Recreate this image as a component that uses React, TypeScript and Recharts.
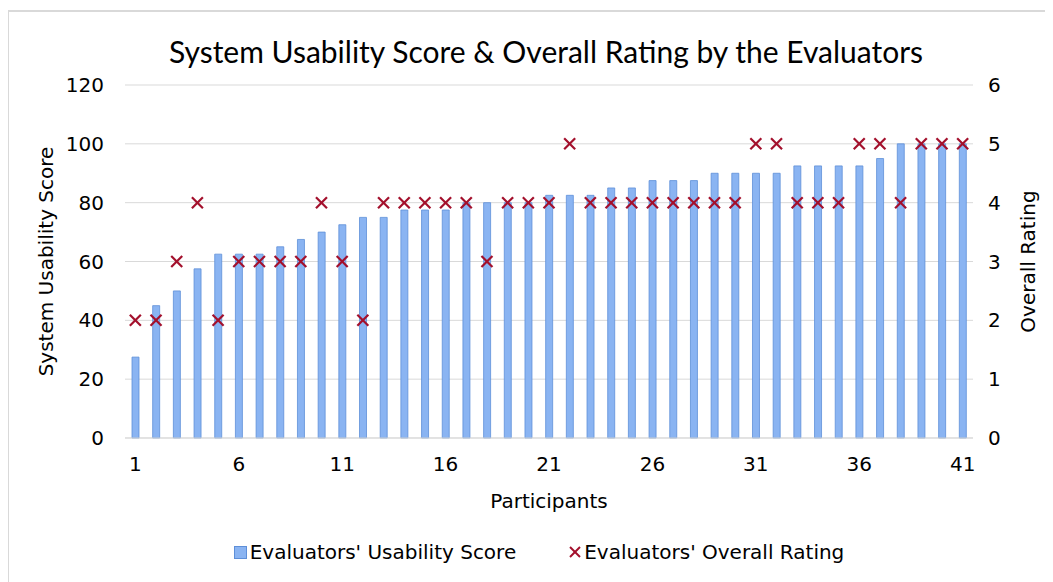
import React from "react";
import {
  ComposedChart,
  Bar,
  Line,
  XAxis,
  YAxis,
  CartesianGrid,
  Legend,
  Label,
} from "recharts";

const participants: number[] = Array.from({ length: 41 }, (_, i) => i + 1);
const usabilityScores: number[] = [
  27.5, 45, 50, 57.5, 62.5, 62.5, 62.5, 65, 67.5, 70,
  72.5, 75, 75, 77.5, 77.5, 77.5, 80, 80, 80, 80,
  82.5, 82.5, 82.5, 85, 85, 87.5, 87.5, 87.5, 90, 90,
  90, 90, 92.5, 92.5, 92.5, 92.5, 95, 100, 100, 100,
  100,
];
const overallRatings: number[] = [
  2, 2, 3, 4, 2, 3, 3, 3, 3, 4,
  3, 2, 4, 4, 4, 4, 4, 3, 4, 4,
  4, 5, 4, 4, 4, 4, 4, 4, 4, 4,
  5, 5, 4, 4, 4, 5, 5, 4, 5, 5,
  5,
];
const leftTicks: number[] = [0, 20, 40, 60, 80, 100, 120];
const rightTicks: number[] = [0, 1, 2, 3, 4, 5, 6];

const TITLE = "System Usability Score & Overall Rating by the Evaluators";
const BAR_NAME = "Evaluators' Usability Score";
const MARK_NAME = "Evaluators' Overall Rating";

const data = participants.map((p, i) => ({
  participant: p,
  score: usabilityScores[i],
  rating: overallRatings[i],
}));

const FONT = "'DejaVu Sans', sans-serif";
const BAR_FILL = "#8AB4F2";
const BAR_STROKE = "#5E8FD8";
const MARK = "#A3102C";

const XMark = (props: any) => {
  const { cx, cy } = props;
  if (cx == null || cy == null) return null;
  const r = 5.5;
  return (
    <g>
      <line x1={cx - r} y1={cy - r} x2={cx + r} y2={cy + r} stroke={MARK} strokeWidth={2.2} />
      <line x1={cx - r} y1={cy + r} x2={cx + r} y2={cy - r} stroke={MARK} strokeWidth={2.2} />
    </g>
  );
};

const LegendContent = () => (
  <div
    style={{
      height: 24,
      display: "flex",
      justifyContent: "center",
      alignItems: "center",
      fontFamily: FONT,
      fontSize: 20,
      color: "#000",
      whiteSpace: "nowrap",
    }}
  >
    <span style={{ display: "inline-flex", alignItems: "center", marginRight: 52 }}>
      <span
        style={{
          display: "inline-block",
          width: 11,
          height: 11,
          background: BAR_FILL,
          border: `1px solid ${BAR_STROKE}`,
          marginRight: 3,
        }}
      />
      {BAR_NAME}
    </span>
    <span style={{ display: "inline-flex", alignItems: "center" }}>
      <svg width={14} height={14} style={{ marginRight: 2 }}>
        <line x1={2} y1={2} x2={12} y2={12} stroke={MARK} strokeWidth={2} />
        <line x1={2} y1={12} x2={12} y2={2} stroke={MARK} strokeWidth={2} />
      </svg>
      {MARK_NAME}
    </span>
  </div>
);

export default function App() {
  return (
    <div style={{ position: "relative", width: 1045, height: 574 }}>
      <div
        style={{
          position: "absolute",
          left: -1,
          top: 2,
          width: 1046,
          height: 572,
          borderLeft: "2px solid #d9d9d9",
          borderTop: "2px solid #d9d9d9",
          boxSizing: "border-box",
        }}
      />
      <div
        style={{
          position: "absolute",
          left: 0,
          width: 1076,
          top: 25,
          textAlign: "center",
          fontFamily: "Lato, 'Open Sans', sans-serif",
          fontSize: 30,
          lineHeight: "36px",
          color: "#000",
          whiteSpace: "nowrap",
        }}
      >
        {TITLE}
      </div>
      <ComposedChart
        width={1045}
        height={574}
        data={data}
        margin={{ top: 77, right: 20, left: 37, bottom: 18 }}
        barCategoryGap={0}
        style={{ position: "absolute", left: 0, top: 0 }}
      >
        <CartesianGrid vertical={false} stroke="#d9d9d9" yAxisId="left" />
        <XAxis
          dataKey="participant"
          interval={4}
          tickLine={false}
          axisLine={{ stroke: "#d9d9d9" }}
          tickMargin={13}
          height={102}
          tick={{ fontFamily: FONT, fontSize: 20, fill: "#000" }}
        >
          <Label
            value="Participants"
            position="insideBottom"
            offset={32}
            style={{ fontFamily: FONT, fontSize: 20, fill: "#000" }}
          />
        </XAxis>
        <YAxis
          yAxisId="left"
          domain={[0, 120]}
          ticks={leftTicks}
          width={80}
          tickLine={false}
          axisLine={false}
          tickMargin={15}
          tick={{ fontFamily: FONT, fontSize: 20, fill: "#000" }}
        >
          <Label
            value="System Usability Score"
            angle={-90}
            position="center"
            dx={-39}
            style={{ fontFamily: FONT, fontSize: 20, fill: "#000", textAnchor: "middle" }}
          />
        </YAxis>
        <YAxis
          yAxisId="right"
          orientation="right"
          domain={[0, 6]}
          ticks={rightTicks}
          width={60}
          tickLine={false}
          axisLine={false}
          tickMargin={9}
          tick={{ fontFamily: FONT, fontSize: 20, fill: "#000" }}
        >
          <Label
            value="Overall Rating"
            angle={-90}
            position="center"
            dx={25}
            style={{ fontFamily: FONT, fontSize: 20, fill: "#000", textAnchor: "middle" }}
          />
        </YAxis>
        <Legend verticalAlign="bottom" content={<LegendContent />} />
        <Bar
          yAxisId="left"
          dataKey="score"
          name={BAR_NAME}
          barSize={7}
          fill={BAR_FILL}
          stroke={BAR_STROKE}
          strokeWidth={0.8}
          isAnimationActive={false}
        />
        <Line
          yAxisId="right"
          dataKey="rating"
          name={MARK_NAME}
          stroke="none"
          strokeWidth={0}
          dot={<XMark />}
          activeDot={false}
          isAnimationActive={false}
        />
      </ComposedChart>
    </div>
  );
}
